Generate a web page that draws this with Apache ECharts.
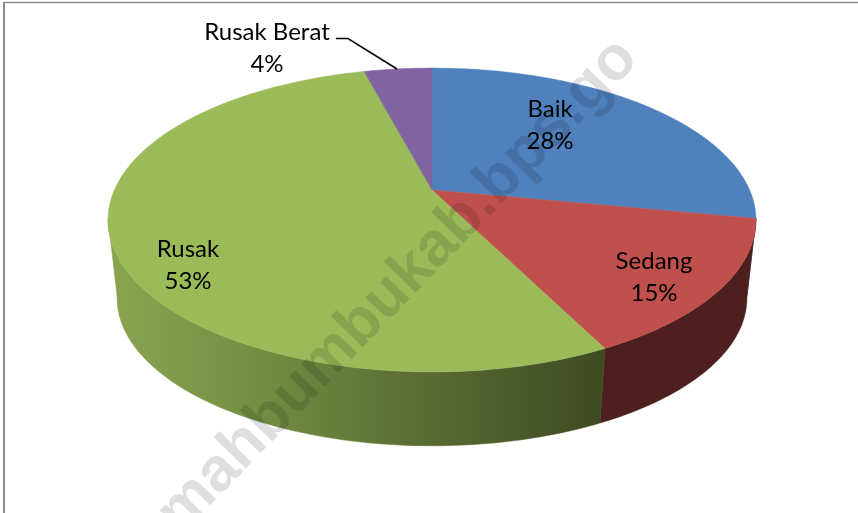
<!DOCTYPE html>
<html>
<head>
<meta charset="utf-8">
<style>
html,body{margin:0;padding:0;background:#fff;}
#main{width:858px;height:513px;}
</style>
<script src="https://cdn.jsdelivr.net/npm/echarts@6/dist/echarts.min.js"></script>
</head>
<body>
<div id="main"></div>
<script>
// data
var categories = ['Baik', 'Sedang', 'Rusak', 'Rusak Berat'];
var values = [28, 14.6, 53.3, 4.1];

// slice colours
var topColors = ['#4f81bd', '#c0504d', '#9bbb59', '#8064a2'];
var labelAnchors = [[550, 125], [654, 277], [188, 265], [267, 48]];

var starts = [];
var total = 0;
values.forEach(function (v) { starts.push(total); total += v; });

// perspective disc: the flat circle is projected onto the page
var apexX = 432, apexY = 190;
var radiusX = 317.6, radiusY = 146, tilt = 0.1974;
var wallScale = 0.972, wallApexY = 269;
var wallFrom = 100.8, wallTo = 259.2; // visible part of the side, degrees

function project(deg) {
    var a = deg * Math.PI / 180;
    var u = Math.sin(a), v = -Math.cos(a);
    var w = 1 - tilt * v;
    return [radiusX * u / w, radiusY * v / w];
}
function arc(from, to, ox, oy, k) {
    var pts = [];
    var n = Math.max(2, Math.ceil(Math.abs(to - from)));
    for (var i = 0; i <= n; i++) {
        var p = project(from + (to - from) * i / n);
        pts.push([ox + p[0] * k, oy + p[1] * k]);
    }
    return pts;
}

var wallGreen = new echarts.graphic.LinearGradient(108, 0, 607, 0, [
    {offset: 0, color: '#8aa550'},
    {offset: 0.3, color: '#738e43'},
    {offset: 0.6, color: '#5c6e35'},
    {offset: 0.8, color: '#4d5c2b'},
    {offset: 1, color: '#3e4a20'}
], true);
var wallColors = ['#2a4060', '#4d1f1e', wallGreen, '#40325a'];

function renderWall(params, api) {
    var i = api.value(0);
    var from = api.value(1) / total * 360;
    var to = (api.value(1) + api.value(2)) / total * 360;
    from = Math.max(from, wallFrom);
    to = Math.min(to, wallTo);
    if (to <= from) return {type: 'group', children: []};
    var upper = arc(from, to, apexX, apexY, 1);
    var lower = arc(to, from, apexX, wallApexY, wallScale);
    return {
        type: 'polygon',
        shape: {points: upper.concat(lower)},
        style: {fill: wallColors[i], stroke: wallColors[i], lineWidth: 0.5}
    };
}

function renderTop(params, api) {
    var i = api.value(0);
    var from = api.value(1) / total * 360;
    var to = (api.value(1) + api.value(2)) / total * 360;
    var pts = [[apexX, apexY]].concat(arc(from, to, apexX, apexY, 1));
    return {
        type: 'polygon',
        shape: {points: pts},
        style: {fill: topColors[i], stroke: topColors[i], lineWidth: 0.5}
    };
}

function renderLabel(params, api) {
    var i = api.value(0);
    return {
        type: 'text',
        x: labelAnchors[i][0],
        y: labelAnchors[i][1],
        style: {
            text: categories[i] + '\n' + Math.round(api.value(2) / total * 100) + '%',
            fill: '#000',
            font: '24px Lato',
            lineHeight: 32,
            align: 'center',
            verticalAlign: 'middle'
        }
    };
}

var seriesData = values.map(function (v, i) { return [i, starts[i], v]; });

var myChart = echarts.init(document.getElementById('main'), null, {renderer: 'canvas'});

var option = {
    backgroundColor: '#ffffff',
    animation: false,
    tooltip: {show: false},
    series: [
        {type: 'custom', coordinateSystem: 'none', silent: true, z: 1, renderItem: renderWall, data: seriesData},
        {type: 'custom', coordinateSystem: 'none', silent: true, z: 2, renderItem: renderTop, data: seriesData},
        {type: 'custom', coordinateSystem: 'none', silent: true, z: 4, renderItem: renderLabel, data: seriesData}
    ],
    graphic: [
        // frame of the original screenshot
        {type: 'line', z: 5, shape: {x1: 4, y1: 2.5, x2: 858, y2: 2.5}, style: {stroke: '#8c8c8c', lineWidth: 1.5}},
        {type: 'line', z: 5, shape: {x1: 4, y1: 2, x2: 4, y2: 513}, style: {stroke: '#8c8c8c', lineWidth: 2}},
        // leader of Rusak Berat
        {type: 'polyline', z: 5, shape: {points: [[336, 38.5], [348, 38.5], [397, 69]]}, style: {stroke: '#000', lineWidth: 1.5, fill: null}},
        // watermark, black with low alpha darkens whatever is under it
        {
            type: 'text', z: 6, x: 650, y: 70, rotation: 46 * Math.PI / 180,
            style: {
                text: 'rumahbumbukab.bps.go',
                font: 'bold 62px "Liberation Sans"',
                fill: 'rgba(0,0,0,0.125)',
                align: 'right',
                verticalAlign: 'bottom'
            }
        }
    ]
};

myChart.setOption(option);

window.addEventListener('resize', function () {
    myChart.resize();
});
</script>
</body>
</html>
